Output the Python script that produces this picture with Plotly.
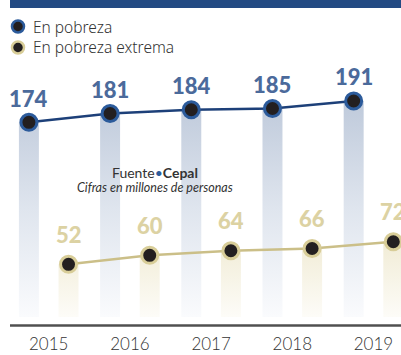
import plotly.graph_objects as go

# Data: Latin America poverty (millions of people), source Cepal
years = ["2015", "2016", "2017", "2018", "2019"]
en_pobreza = [174, 181, 184, 185, 191]
en_pobreza_extrema = [52, 60, 64, 66, 72]

W, H = 401, 355
PLOT_BOTTOM_PX = 317          # bottom of the plotting area (pixels from top)
MARGIN_B = H - PLOT_BOTTOM_PX

BLUE_RANGE = [18.6, 271.6]
GOLD_RANGE = [5.4, 285.9]
X_RANGE = [-0.6, 4.339]
OFFSET = 0.244                # horizontal shift of each series from the year centre
HALF_W = 0.123                # half width of the shaded columns

NAVY = "#1d4079"
BLUE_RING = "#2c5b9b"
BLUE_TEXT = "#4b6a9b"
GOLD_LINE = "#cbbf88"
GOLD_RING = "#d8cd98"
GOLD_TEXT = "#dcd2a3"
DOT = "#231f20"
TEXT = "#333333"

idx = list(range(len(years)))
xb = [i - OFFSET for i in idx]
xg = [i + OFFSET for i in idx]


def column_path(xs, vals, base):
    px, py = [], []
    for x, v in zip(xs, vals):
        px += [x - HALF_W, x + HALF_W, x + HALF_W, x - HALF_W, x - HALF_W, None]
        py += [base, base, v, v, base, None]
    return px, py


fig = go.Figure()

# Shaded columns fading toward the baseline
bx, by = column_path(xb, en_pobreza, BLUE_RANGE[0])
fig.add_trace(go.Scatter(
    x=bx, y=by, mode="none", fill="toself", hoverinfo="skip",
    fillgradient=dict(type="vertical",
                      colorscale=[[0, "rgba(250,251,253,1)"], [0.5, "#dfe5ee"], [1, "#bfcadb"]]),
    yaxis="y", showlegend=False))
gx, gy = column_path(xg, en_pobreza_extrema, GOLD_RANGE[0])
fig.add_trace(go.Scatter(
    x=gx, y=gy, mode="none", fill="toself", hoverinfo="skip",
    fillgradient=dict(type="vertical",
                      colorscale=[[0, "rgba(253,252,248,1)"], [1, "#f1ecd6"]]),
    yaxis="y2", showlegend=False))

# Lines with markers
fig.add_trace(go.Scatter(
    x=xb, y=en_pobreza, mode="lines+markers", yaxis="y",
    line=dict(color=NAVY, width=2.5),
    marker=dict(size=16, color=DOT, line=dict(color=BLUE_RING, width=3)),
    showlegend=False))
fig.add_trace(go.Scatter(
    x=xg, y=en_pobreza_extrema, mode="lines+markers", yaxis="y2",
    line=dict(color=GOLD_LINE, width=2.5),
    marker=dict(size=16, color=DOT, line=dict(color=GOLD_RING, width=3)),
    showlegend=False))

annotations = []
num_font = dict(family="Lato", size=22, weight=900)
for x, v in zip(xb, en_pobreza):
    annotations.append(dict(x=x, y=v, xref="x", yref="y", text=str(v), showarrow=False,
                            yanchor="middle", yshift=24,
                            font=dict(num_font, color=BLUE_TEXT)))
for x, v in zip(xg, en_pobreza_extrema):
    annotations.append(dict(x=x, y=v, xref="x", yref="y2", text=str(v), showarrow=False,
                            yanchor="middle", yshift=30,
                            font=dict(num_font, color=GOLD_TEXT)))


def py(px):
    return (PLOT_BOTTOM_PX - px) / PLOT_BOTTOM_PX


# Source and units note
annotations.append(dict(
    x=155 / W, y=py(172), xref="paper", yref="paper", showarrow=False,
    text="Fuente<span style='color:#2c5b9b'>•</span><b>Cepal</b>",
    font=dict(family="Lato", size=14, color=TEXT)))
annotations.append(dict(
    x=155 / W, y=py(187), xref="paper", yref="paper", showarrow=False,
    text="Cifras en millones de personas",
    font=dict(family="Lato", size=12.5, color=TEXT, style="italic")))

# Legend
legend_items = [("En pobreza", BLUE_RING, 26.5), ("En pobreza extrema", GOLD_RING, 47.5)]
shapes = []
for label, ring, ypx in legend_items:
    shapes.append(dict(type="circle", xref="paper", yref="paper",
                       xsizemode="pixel", ysizemode="pixel",
                       xanchor=18 / W, yanchor=py(ypx),
                       x0=-6, x1=6, y0=-6, y1=6,
                       fillcolor=DOT, line=dict(color=ring, width=2.5)))
    annotations.append(dict(x=31 / W, y=py(ypx), xref="paper", yref="paper",
                            xanchor="left", yanchor="middle", showarrow=False,
                            text=label,
                            font=dict(family="Noto Sans", size=15.5, weight=300,
                                      color=TEXT)))

# Header band and baseline
shapes.append(dict(type="rect", xref="paper", yref="paper",
                   x0=10 / W, x1=1, y0=py(8), y1=1.0,
                   fillcolor="#234a83", line=dict(width=0)))
shapes.append(dict(type="line", xref="paper", yref="paper",
                   x0=10 / W, x1=1, y0=py(325.5), y1=py(325.5),
                   line=dict(color="#505050", width=2.5)))

fig.update_layout(
    width=W, height=H,
    margin=dict(l=0, r=0, t=0, b=MARGIN_B),
    paper_bgcolor="white", plot_bgcolor="white",
    showlegend=False,
    xaxis=dict(range=X_RANGE, tickvals=idx, ticktext=years, showgrid=False,
               zeroline=False, showline=False, ticks="",
               ticklabelstandoff=15,
               tickfont=dict(family="Lato", size=17, weight=300, color=TEXT)),
    yaxis=dict(range=BLUE_RANGE, visible=False, fixedrange=True),
    yaxis2=dict(range=GOLD_RANGE, visible=False, overlaying="y", fixedrange=True),
    annotations=annotations,
    shapes=shapes,
)

fig.write_html("out.html")
